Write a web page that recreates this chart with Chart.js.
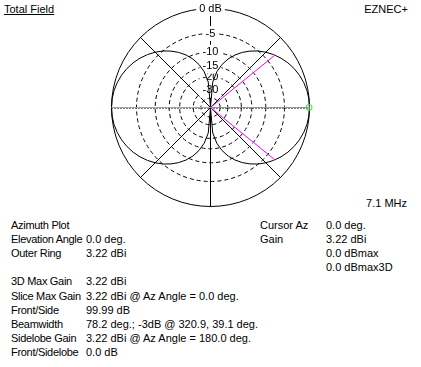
<!DOCTYPE html>
<html>
<head>
<meta charset="utf-8">
<script src="https://cdn.jsdelivr.net/npm/chart.js@4"></script>
<style>
body{margin:0;background:#fff;width:421px;height:367px;overflow:hidden;position:relative;font:11px "Liberation Sans",Arial,sans-serif;color:#000}
#wrap{position:absolute;left:103px;top:0;width:214px;height:214px}
#wrap canvas{display:block}
.t{position:absolute;white-space:nowrap;line-height:14px}
.lbl{letter-spacing:-0.3px}
</style>
</head>
<body>
<div id="wrap"><canvas id="polar" width="214" height="214"></canvas></div>
<div class="t" style="left:4px;top:2px;text-decoration:underline">Total Field</div>
<div class="t" style="right:13px;top:2px">EZNEC+</div>
<div class="t" style="right:14px;top:196px">7.1 MHz</div>
<div id="info"></div>
<script>
// azimuth in degrees (0 = right, counter-clockwise), gain in dB relative to outer ring
var azimuth = [0,5,10,15,20,25,30,35,40,45,50,55,60,65,70,75,80,85,
  90,95,100,105,110,115,120,125,130,135,140,145,150,155,160,165,170,175,
  180,185,190,195,200,205,210,215,220,225,230,235,240,245,250,255,260,265,
  270,275,280,285,290,295,300,305,310,315,320,325,330,335,340,345,350,355];
var gainDb = [0,-0.05,-0.19,-0.44,-0.78,-1.22,-1.76,-2.41,-3.17,-4.04,-5.05,-6.23,-7.59,-9.19,-11.17,-13.70,-17.24,-23.26,
  -99,-23.26,-17.24,-13.70,-11.17,-9.19,-7.59,-6.23,-5.05,-4.04,-3.17,-2.41,-1.76,-1.22,-0.78,-0.44,-0.19,-0.05,
  0,-0.05,-0.19,-0.44,-0.78,-1.22,-1.76,-2.41,-3.17,-4.04,-5.05,-6.23,-7.59,-9.19,-11.17,-13.70,-17.24,-23.26,
  -99,-23.26,-17.24,-13.70,-11.17,-9.19,-7.59,-6.23,-5.05,-4.04,-3.17,-2.41,-1.76,-1.22,-0.78,-0.44,-0.19,-0.05];
var ringTicks = [-40,-30,-20,-15,-10,-5,0];

// cursor / beamwidth lines
var cursorAz = [39.1, 320.9, 180, 0];
var cursorDb = [-3, -3, 0, 0];
var cursorColors = ['#ff00ff','#ff00ff','#00e8ff','#00ff00'];

var infoLeft = [
  ['Azimuth Plot',''],
  ['Elevation Angle','0.0 deg.'],
  ['Outer Ring','3.22 dBi'],
  ['',''],
  ['3D Max Gain','3.22 dBi'],
  ['Slice Max Gain','3.22 dBi @ Az Angle = 0.0 deg.'],
  ['Front/Side','99.99 dB'],
  ['Beamwidth','78.2 deg.; -3dB @ 320.9, 39.1 deg.'],
  ['Sidelobe Gain','3.22 dBi @ Az Angle = 180.0 deg.'],
  ['Front/Sidelobe','0.0 dB']
];
var infoRight = [
  ['Cursor Az','0.0 deg.'],
  ['Gain','3.22 dBi'],
  ['','0.0 dBmax'],
  ['','0.0 dBmax3D']
];

var info = document.getElementById('info');
function addText(txt, x, row, cls) {
  if (!txt) return;
  var d = document.createElement('div');
  d.className = 't' + (cls ? ' ' + cls : '');
  d.style.left = x + 'px';
  d.style.top = (218 + Math.round(row * 14.1)) + 'px';
  d.textContent = txt;
  info.appendChild(d);
}
infoLeft.forEach(function (r, k) { addText(r[0], 11, k, 'lbl'); addText(r[1], 86, k); });
infoRight.forEach(function (r, k) { addText(r[0], 260, k); addText(r[1], 326, k); });

// ARRL log scale: each 2 dB step shrinks radius by 0.89
class ArrlScale extends Chart.RadialLinearScale {
  fit() {
    super.fit();
    this.xCenter = Math.floor(this.xCenter) + 0.5;
    this.yCenter = Math.floor(this.yCenter) + 0.5;
  }
  getDistanceFromCenterForValue(v) {
    if (v === null || v === undefined || isNaN(v)) return NaN;
    return this.drawingArea * Math.pow(0.89, -Math.min(v, 0) / 2);
  }
}
ArrlScale.id = 'arrl';
Chart.register(ArrlScale);

// radar index 0 is at the top and goes clockwise -> azimuth 90, 85, 80 ...
var n = azimuth.length;
var order = azimuth.map(function (a, i) { return ((18 - i) % n + n) % n; });

var cursorPlugin = {
  id: 'cursorLines',
  afterDraw: function (chart) {
    var s = chart.scales.r, ctx = chart.ctx;
    var cx = s.xCenter, cy = s.yCenter;
    var row = Math.floor(cy) + 0.5;
    ctx.save();
    ctx.lineWidth = 1;
    // dotted horizontal spoke, one pixel under the cursor lines
    ctx.strokeStyle = '#000';
    ctx.setLineDash([1, 2]);
    ctx.beginPath();
    ctx.moveTo(cx - s.drawingArea, row + 1);
    ctx.lineTo(cx + s.drawingArea, row + 1);
    ctx.stroke();
    ctx.setLineDash([]);
    for (var i = 0; i < cursorAz.length; i++) {
      var d = s.getDistanceFromCenterForValue(cursorDb[i]);
      var a = cursorAz[i] * Math.PI / 180;
      var flat = Math.abs(Math.sin(a)) < 1e-9;
      ctx.strokeStyle = cursorColors[i];
      ctx.beginPath();
      ctx.moveTo(cx, flat ? row : cy);
      ctx.lineTo(cx + d * Math.cos(a), flat ? row : cy - d * Math.sin(a));
      ctx.stroke();
    }
    var d0 = s.getDistanceFromCenterForValue(cursorDb[3]);
    var a0 = cursorAz[3] * Math.PI / 180;
    var mx = cx + d0 * Math.cos(a0);
    ctx.strokeStyle = '#00ff00';
    ctx.beginPath(); ctx.arc(mx - 0.5, row, 3, 0, Math.PI * 2); ctx.stroke();
    ctx.strokeStyle = '#ff00ff';
    ctx.beginPath(); ctx.moveTo(mx, row - 2); ctx.lineTo(mx, row + 3); ctx.stroke();
    ctx.restore();
  }
};

new Chart(document.getElementById('polar'), {
  type: 'radar',
  data: {
    labels: order.map(function (j) { return String(azimuth[j]); }),
    datasets: [{
      data: order.map(function (j) { return gainDb[j]; }),
      borderColor: '#000',
      borderWidth: 1,
      pointRadius: 0,
      fill: false,
      tension: 0
    }]
  },
  options: {
    responsive: false,
    animation: false,
    plugins: { legend: { display: false }, tooltip: { enabled: false } },
    scales: {
      r: {
        type: 'arrl',
        min: -40,
        max: 0,
        afterBuildTicks: function (scale) {
          scale.ticks = ringTicks.map(function (v) { return { value: v }; });
        },
        ticks: {
          color: '#000',
          font: { family: '"Liberation Sans", Arial, sans-serif', size: 11 },
          backdropColor: function (c) { return c.tick && c.tick.value === -40 ? 'rgba(0,0,0,0)' : '#fff'; },
          backdropPadding: { x: 3, y: 2 },
          callback: function (v) { return v === 0 ? '0 dB' : (v === -40 ? '' : String(v)); }
        },
        grid: { circular: true, color: '#000', lineWidth: 1 },
        border: { dash: function (c) { return c.tick && c.tick.value === 0 ? [] : [4, 3]; } },
        angleLines: {
          lineWidth: 1,
          // spokes every 45 deg; the horizontal one is covered by the cursor lines
          color: function (c) { return c.index % 9 === 0 && c.index % 36 !== 18 ? '#000' : 'rgba(0,0,0,0)'; }
        },
        pointLabels: { display: false }
      }
    }
  },
  plugins: [cursorPlugin]
});
</script>
</body>
</html>
